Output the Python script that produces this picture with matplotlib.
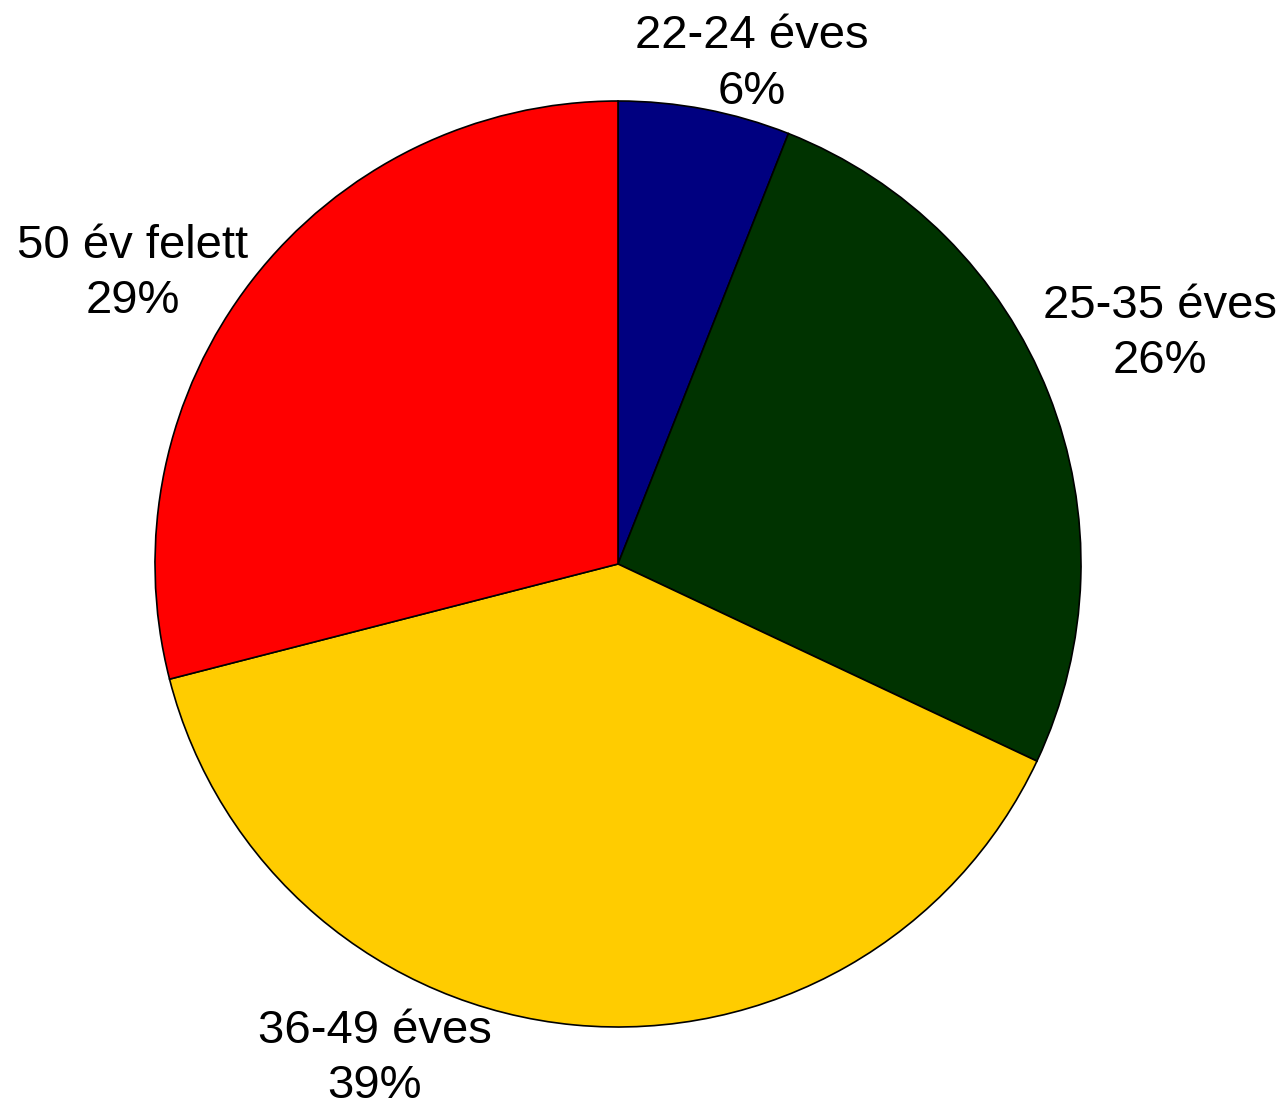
import matplotlib
matplotlib.use('Agg')
import matplotlib.pyplot as plt

# age groups (Hungarian labels) and their shares
labels = ['22-24 éves', '25-35 éves', '36-49 éves', '50 év felett']
shares = [6, 26, 39, 29]
colors = ['#000080', '#003300', '#FFCC00', '#FF0000']

# label anchor points in pie units (radius = 1)
label_pos = [(0.289, 1.08), (1.171, 0.497), (-0.525, -1.068), (-1.048, 0.627)]

plt.rcParams['font.family'] = ['Liberation Sans', 'DejaVu Sans']

fig = plt.figure(figsize=(12.87, 11.06), dpi=100)
ax = fig.add_axes([0, 0, 1, 1])

ax.pie(shares, colors=colors, startangle=90, counterclock=False,
       radius=1.0, wedgeprops={'edgecolor': 'black', 'linewidth': 1.2})

for lab, val, (x, y) in zip(labels, shares, label_pos):
    ax.text(x, y, f'{lab}\n{val}%', ha='center', va='center',
            fontsize=34, linespacing=1.33, color='black')

# center at (618, 564) px, radius 463 px
R = 463.0
ax.set_xlim(-618 / R, (1287 - 618) / R)
ax.set_ylim(-(1106 - 564) / R, 564 / R)
ax.set_aspect('auto')
ax.axis('off')

fig.savefig('out.png', dpi=100)
